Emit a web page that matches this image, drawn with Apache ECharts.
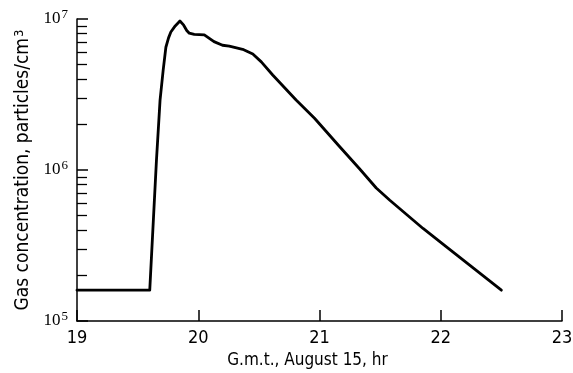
<!DOCTYPE html>
<html>
<head>
<meta charset="utf-8">
<script src="https://cdn.jsdelivr.net/npm/echarts@6/dist/echarts.min.js"></script>
<style>html,body{margin:0;padding:0;background:#fff}#c{width:573px;height:373px}</style>
</head>
<body>
<div id="c"></div>
<script>
// Time, G.m.t. hours (August 15)
var hours = [19, 19.6, 19.655, 19.685, 19.711, 19.733, 19.755, 19.774, 19.81, 19.849, 19.88, 19.905, 19.926, 19.967, 20.05, 20.13, 20.2, 20.256, 20.366, 20.45, 20.52, 20.614, 20.807, 20.959, 21.165, 21.33, 21.468, 21.58, 21.854, 22.047, 22.5];
// Gas concentration, particles/cm^3
var concentration = [1.6e5, 1.6e5, 1.15e6, 2.9e6, 4.6e6, 6.5e6, 7.5e6, 8.2e6, 9.0e6, 9.7e6, 9.1e6, 8.4e6, 8.05e6, 7.9e6, 7.86e6, 7.08e6, 6.7e6, 6.62e6, 6.3e6, 5.86e6, 5.2e6, 4.26e6, 2.91e6, 2.2e6, 1.43e6, 1.02e6, 7.6e5, 6.3e5, 4.1e5, 3.1e5, 1.6e5];
var xTicks = [19, 20, 21, 22, 23];
var yDecades = [5, 6, 7];
var minorMultipliers = [2, 3, 4, 5, 6, 7, 8, 9];

var minorTickLogs = [];
for (var d = 0; d < yDecades.length - 1; d++) {
  for (var m = 0; m < minorMultipliers.length; m++) {
    minorTickLogs.push(yDecades[d] + Math.log10(minorMultipliers[m]));
  }
}

var sans = '"Liberation Sans Narrow", "DejaVu Sans Condensed", sans-serif';
var serif = '"Liberation Serif", serif';

var chart = echarts.init(document.getElementById('c'), null, {renderer: 'canvas'});
chart.setOption({
  animation: false,
  backgroundColor: '#fff',
  grid: {left: 77, right: 11, top: 19, bottom: 52, containLabel: false, outerBoundsMode: 'none'},
  xAxis: {
    type: 'value',
    min: xTicks[0], max: xTicks[xTicks.length - 1], interval: 1,
    name: 'G.m.t., August 15, hr',
    nameLocation: 'middle',
    nameGap: 31,
    nameTextStyle: {fontFamily: sans, fontSize: 17, color: '#000', padding: [0, 24, 0, 0]},
    axisLine: {lineStyle: {color: '#000', width: 1.5}},
    axisTick: {inside: true, length: 11, lineStyle: {color: '#000', width: 1.5}},
    axisLabel: {fontFamily: sans, fontSize: 18, color: '#000', margin: 8},
    splitLine: {show: false}
  },
  yAxis: [{
    type: 'log', logBase: 10,
    min: Math.pow(10, yDecades[0]), max: Math.pow(10, yDecades[yDecades.length - 1]),
    name: '{a|Gas concentration, particles/cm}{s|3}',
    nameLocation: 'middle',
    nameGap: 40,
    nameTextStyle: {
      color: '#000',
      rich: {
        a: {fontFamily: sans, fontSize: 19, color: '#000'},
        s: {fontFamily: sans, fontSize: 13, color: '#000', verticalAlign: 'top', padding: [0, 0, 7, 1]}
      }
    },
    axisLine: {lineStyle: {color: '#000', width: 1.5}},
    axisTick: {inside: true, length: 11, lineStyle: {color: '#000', width: 1.5}},
    axisLabel: {
      margin: 9,
      formatter: function (v) { return '{b|10}{s|' + Math.round(Math.log10(v)) + '}'; },
      rich: {
        b: {fontFamily: serif, fontSize: 17, color: '#000'},
        s: {fontFamily: serif, fontSize: 13, color: '#000', verticalAlign: 'top', padding: [0, 0, 8, 1]}
      }
    },
    splitLine: {show: false}
  }, {
    type: 'value',
    position: 'left',
    min: yDecades[0], max: yDecades[yDecades.length - 1],
    axisLine: {show: false},
    axisLabel: {show: false},
    axisTick: {show: true, inside: true, length: 10, customValues: minorTickLogs, lineStyle: {color: '#000', width: 1.3}},
    splitLine: {show: false}
  }],
  series: [{
    type: 'line',
    yAxisIndex: 0,
    data: hours.map(function (h, i) { return [h, concentration[i]]; }),
    showSymbol: false,
    smooth: false,
    lineStyle: {color: '#000', width: 2.8, join: 'round', cap: 'round'}
  }]
});
</script>
</body>
</html>
